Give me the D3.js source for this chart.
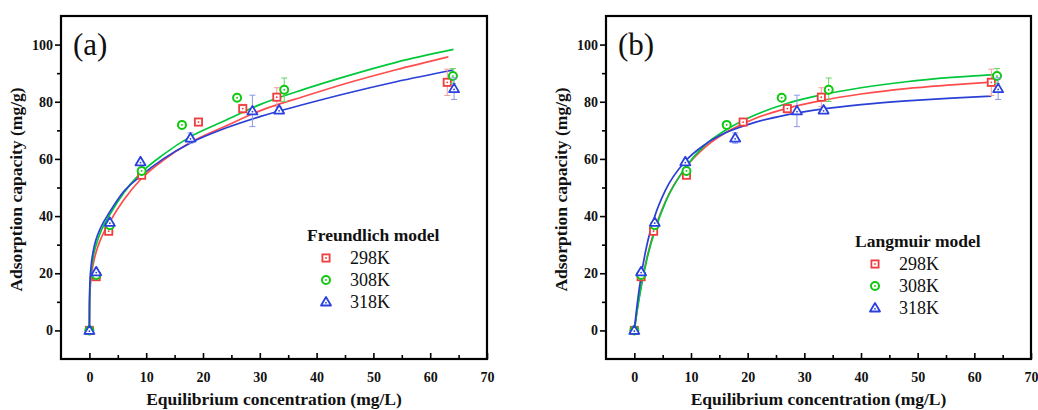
<!DOCTYPE html>
<html>
<head>
<meta charset="utf-8">
<script src="https://cdnjs.cloudflare.com/ajax/libs/d3/7.8.5/d3.min.js"></script>
<style>
  body { margin: 0; background: #fff; }
  svg text { font-family: "Times New Roman", "Liberation Serif", Times, "DejaVu Serif", serif !important; }
</style>
</head>
<body>
<div id="chart"></div>
<script>
var svgWidth = 1038;
var svgHeight = 410;
var serif = "'Times New Roman', 'Liberation Serif', Times, 'DejaVu Serif', serif";

// measured points (mg/L, mg/g)
var series = ["298K", "308K", "318K"];
var x298 = [0, 1.2, 3.4, 9.2, 19.2, 27.0, 33.0, 63.0];
var y298 = [0, 18.8, 34.7, 54.3, 72.9, 77.6, 81.6, 86.8];
var e298 = [0, 0.5, 0.5, 0.5, 0.5, 1.5, 3.3, 4.6];
var x308 = [0, 1.2, 3.6, 9.2, 16.3, 26.0, 34.3, 64.0];
var y308 = [0, 19.4, 36.8, 55.8, 71.9, 81.4, 84.2, 89.0];
var e308 = [0, 0.5, 0.5, 0.5, 0.5, 0.6, 4.1, 2.6];
var x318 = [0, 1.2, 3.6, 9.0, 17.8, 28.7, 33.4, 64.2];
var y318 = [0, 20.5, 37.8, 59.0, 67.3, 76.8, 77.1, 84.6];
var e318 = [0, 0.5, 0.5, 0.5, 1.8, 5.5, 1.0, 3.8];

// Freundlich fit curves
var xFre = [0, 0.02, 0.1, 0.3, 0.7, 1.2, 2, 3.6, 6, 9, 13, 17.8, 24, 30, 38, 45, 54];
var fre298 = [0, 7.5, 13, 18.5, 23.5, 27.5, 32, 38, 45.5, 52.8, 59.5, 65.8, 71.5, 76.8, 82, 86.3, 91.2];
var fre308 = [0, 9, 15, 20.5, 26, 30, 34.5, 40.5, 48, 55, 61.5, 67.8, 73.5, 79, 84.5, 88.8, 93.8];
var fre318 = [0, 11, 17, 22.5, 28, 32, 36, 41.5, 48.5, 54, 60, 65.6, 70.8, 74.8, 79.2, 82.8, 87];
var freEnd = [[63.2, 95.7], [64.1, 98.3], [64.1, 91.1]];

// Langmuir fit curves
var xLan = [0, 0.5, 1.2, 2.2, 3.6, 5.5, 9, 12.5, 16.3, 21, 26.9, 33, 40, 48, 56];
var lan298 = [0, 7.2, 15.7, 25.3, 35.4, 45.2, 56.8, 64.1, 69.4, 73.9, 77.7, 80.4, 82.7, 84.6, 85.9];
var lan308 = [0, 6.9, 15.1, 24.7, 34.7, 44.9, 56.9, 64.9, 70.3, 75.1, 79.4, 82.4, 84.9, 87.0, 88.5];
var lan318 = [0, 9.1, 19.1, 29.7, 39.9, 49.1, 59.2, 65.1, 69.3, 72.6, 75.4, 77.4, 79.0, 80.3, 81.3];
var lanEnd = [[63.0, 86.9], [64.0, 89.6], [63.0, 82.0]];

var xTicks = [0, 10, 20, 30, 40, 50, 60, 70];
var yTicks = [0, 20, 40, 60, 80, 100];

var markColors = ["#f03c3c", "#10c810", "#2a40e0"];
var lineColors = ["#ff4d4d", "#00c83a", "#2a3fd6"];
var barColors = ["#f59a9a", "#5fd85f", "#8a96e8"];
var shapes = ["square", "circle", "triangle"];

var svg = d3.select("#chart")
  .append("svg")
  .attr("width", svgWidth)
  .attr("height", svgHeight)
  .style("font-family", serif);

function drawMarker(g, shape, color, cx, cy) {
  if (shape === "square") {
    g.append("rect")
      .attr("x", cx - 3.6).attr("y", cy - 3.6)
      .attr("width", 7.2).attr("height", 7.2)
      .attr("fill", "#fff").attr("stroke", color).attr("stroke-width", 1.8);
  } else if (shape === "circle") {
    g.append("circle")
      .attr("cx", cx).attr("cy", cy).attr("r", 4)
      .attr("fill", "#fff").attr("stroke", color).attr("stroke-width", 2);
  } else {
    g.append("path")
      .attr("d", `M${cx},${cy - 5} L${cx + 5},${cy + 3.5} L${cx - 5},${cy + 3.5} Z`)
      .attr("fill", "#fff").attr("stroke", color).attr("stroke-width", 1.8)
      .attr("stroke-linejoin", "round");
  }
  g.append("circle")
    .attr("cx", cx).attr("cy", shape === "triangle" ? cy + 0.8 : cy)
    .attr("r", 0.9)
    .attr("fill", color);
}

function styleTicks(axis) {
  axis.attr("font-family", serif);
  axis.select(".domain").remove();
  axis.selectAll(".tick line").attr("stroke", "#000").attr("stroke-width", 1.6);
  axis.selectAll(".tick text")
    .style("font-family", serif).attr("font-weight", "bold")
    .attr("font-size", 14).attr("fill", "#111");
}

function drawPanel(opt) {
  var left = opt.left, right = opt.right, top = 16, bottom = 359;

  var xScale = d3.scaleLinear().domain([-5, 70]).range([left, right]);
  var yScale = d3.scaleLinear().domain([-10, 110]).range([bottom, top]);

  // y axis, ticks outward
  var yAxis = svg.append("g")
    .attr("transform", `translate(${left}, 0)`)
    .call(d3.axisLeft(yScale).tickValues(yTicks).tickSize(6).tickPadding(2).tickFormat(d3.format("d")));
  styleTicks(yAxis);
  var yMinor = svg.append("g")
    .attr("transform", `translate(${left}, 0)`)
    .call(d3.axisLeft(yScale).tickValues([10, 30, 50, 70, 90]).tickSize(4).tickFormat(""));
  styleTicks(yMinor);

  // x axis, ticks inward
  var xAxis = svg.append("g")
    .attr("transform", `translate(0, ${bottom})`)
    .call(d3.axisBottom(xScale).tickValues(xTicks).tickSize(-6).tickPadding(13).tickFormat(d3.format("d")));
  styleTicks(xAxis);
  var xMinor = svg.append("g")
    .attr("transform", `translate(0, ${bottom})`)
    .call(d3.axisBottom(xScale).tickValues([5, 15, 25, 35, 45, 55, 65]).tickSize(-4).tickFormat(""));
  styleTicks(xMinor);

  // frame
  svg.append("rect")
    .attr("x", left).attr("y", top)
    .attr("width", right - left).attr("height", bottom - top)
    .attr("fill", "none").attr("stroke", "#000").attr("stroke-width", 2.2);

  // fit curves
  var line = d3.line()
    .x(d => xScale(d[0]))
    .y(d => yScale(d[1]))
    .curve(d3.curveMonotoneX);

  opt.curves.forEach(function(c, i) {
    var pts = opt.curveX.map((x, j) => [x, c[j]]);
    pts.push(opt.curveEnd[i]);
    svg.append("path")
      .datum(pts)
      .attr("d", line)
      .attr("fill", "none")
      .attr("stroke", lineColors[i])
      .attr("stroke-width", 1.7);
  });

  // points with error bars
  var pointSets = [[x298, y298, e298], [x308, y308, e308], [x318, y318, e318]];
  pointSets.forEach(function(set, i) {
    var g = svg.append("g");
    set[0].forEach(function(x, j) {
      var err = set[2][j];
      var cx = xScale(x);
      if (err > 0.8) {
        var y1 = yScale(set[1][j] + err), y2 = yScale(set[1][j] - err);
        g.append("line").attr("x1", cx).attr("x2", cx).attr("y1", y1).attr("y2", y2)
          .attr("stroke", barColors[i]).attr("stroke-width", 1);
        [y1, y2].forEach(function(yy) {
          g.append("line").attr("x1", cx - 3).attr("x2", cx + 3).attr("y1", yy).attr("y2", yy)
            .attr("stroke", barColors[i]).attr("stroke-width", 1);
        });
      }
      drawMarker(g, shapes[i], markColors[i], cx, yScale(set[1][j]));
    });
  });

  // panel tag
  svg.append("text")
    .attr("x", left + 12).attr("y", 55)
    .attr("font-size", 31)
    .attr("fill", "#111")
    .text(opt.tag);

  // axis titles
  svg.append("text")
    .attr("x", (left + right) / 2).attr("y", 405)
    .attr("text-anchor", "middle")
    .attr("font-size", 17.5).attr("font-weight", "bold").attr("fill", "#111")
    .text("Equilibrium concentration (mg/L)");

  svg.append("text")
    .attr("transform", `translate(${left - 39}, ${(top + bottom) / 2 + 2}) rotate(-90)`)
    .attr("text-anchor", "middle")
    .attr("font-size", 17.5).attr("font-weight", "bold").attr("fill", "#111")
    .text("Adsorption capacity (mg/g)");

  // legend
  svg.append("text")
    .attr("x", opt.legX).attr("y", opt.legY)
    .attr("font-size", 17.5).attr("font-weight", "bold").attr("fill", "#111")
    .text(opt.legTitle);
  series.forEach(function(s, i) {
    var ly = opt.legY + 17 + i * 22;
    var lg = svg.append("g");
    drawMarker(lg, shapes[i], markColors[i], opt.legX + opt.markDx, ly);
    svg.append("text")
      .attr("x", opt.legX + opt.textDx).attr("y", ly + 6)
      .attr("font-size", 18).attr("fill", "#111")
      .text(s);
  });
}

drawPanel({
  left: 61, right: 487, tag: "(a)",
  curveX: xFre, curves: [fre298, fre308, fre318], curveEnd: freEnd,
  legTitle: "Freundlich model", legX: 307, legY: 241, markDx: 19, textDx: 43
});

drawPanel({
  left: 606, right: 1031, tag: "(b)",
  curveX: xLan, curves: [lan298, lan308, lan318], curveEnd: lanEnd,
  legTitle: "Langmuir model", legX: 855, legY: 247, markDx: 20, textDx: 44
});
</script>
</body>
</html>
